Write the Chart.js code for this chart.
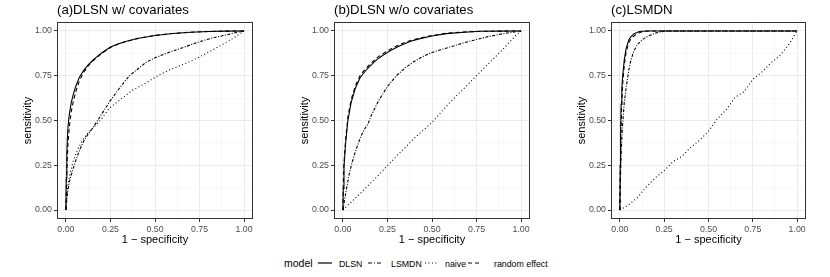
<!DOCTYPE html>
<html>
<head>
<meta charset="utf-8">
<script src="https://cdn.jsdelivr.net/npm/chart.js@4/dist/chart.umd.min.js"></script>
<style>
  body { margin: 0; background: #fff; font-family: "Liberation Sans", Arial, sans-serif; }
  #wrap { position: relative; width: 830px; height: 277px; overflow: hidden; }
  canvas { position: absolute; top: 0; }
  .ptitle { position: absolute; top: 2px; font-size: 13.2px; color: #000; white-space: nowrap; }
  .leg { position: absolute; top: 256px; white-space: nowrap; color: #000; line-height: 14px; }
  .key { position: absolute; top: 259px; }
</style>
</head>
<body>
<div id="wrap">
  <canvas id="chartA" width="277" height="250" style="left:0px"></canvas>
  <canvas id="chartB" width="277" height="250" style="left:277px"></canvas>
  <canvas id="chartC" width="276" height="250" style="left:554px"></canvas>
  <div class="ptitle" style="left:57px">(a)DLSN w/ covariates</div>
  <div class="ptitle" style="left:334px">(b)DLSN w/o covariates</div>
  <div class="ptitle" style="left:611px">(c)LSMDN</div>

  <!-- legend -->
  <div class="leg" style="left:284px;font-size:10.5px">model</div>
  <svg class="key" style="left:318px" width="14" height="8"><line x1="0" y1="4" x2="14" y2="4" stroke="#000" stroke-width="1.2"/></svg>
  <div class="leg" style="left:339px;font-size:8.8px;top:257px">DLSN</div>
  <svg class="key" style="left:368px" width="14" height="8"><line x1="0" y1="4" x2="14" y2="4" stroke="#000" stroke-width="1.2" stroke-dasharray="4,2,1,2"/></svg>
  <div class="leg" style="left:391px;font-size:8.8px;top:257px">LSMDN</div>
  <svg class="key" style="left:425px" width="14" height="8"><line x1="0" y1="4" x2="14" y2="4" stroke="#000" stroke-width="1.2" stroke-dasharray="1,2.5"/></svg>
  <div class="leg" style="left:445px;font-size:8.8px;top:257px">naive</div>
  <svg class="key" style="left:468px" width="14" height="8"><line x1="0" y1="4" x2="14" y2="4" stroke="#000" stroke-width="1.2" stroke-dasharray="4,3"/></svg>
  <div class="leg" style="left:494px;font-size:8.8px;top:257px">random effect</div>
</div>

<script>
// tick labels shared by all three panels
var tickValues = [0, 0.25, 0.5, 0.75, 1];
var minorValues = [0.125, 0.375, 0.625, 0.875];

// (a) DLSN w/ covariates
var aDlsnFpr = [0, 0.002, 0.005, 0.01, 0.015, 0.02, 0.03, 0.04, 0.055, 0.075, 0.1, 0.125, 0.15, 0.175, 0.2, 0.25, 0.3, 0.35, 0.4, 0.5, 0.6, 0.7, 0.8, 0.9, 1];
var aDlsnTpr = [0, 0.18, 0.32, 0.44, 0.5, 0.54, 0.6, 0.64, 0.69, 0.74, 0.78, 0.81, 0.835, 0.857, 0.877, 0.91, 0.93, 0.945, 0.958, 0.975, 0.986, 0.993, 0.997, 0.999, 1];
var aRandFpr = [0, 0.003, 0.007, 0.012, 0.02, 0.03, 0.04, 0.055, 0.075, 0.1, 0.125, 0.15, 0.2, 0.25, 0.3, 0.4, 0.5, 0.6, 0.7, 0.8, 0.9, 1];
var aRandTpr = [0, 0.15, 0.27, 0.38, 0.47, 0.55, 0.6, 0.66, 0.72, 0.77, 0.805, 0.832, 0.874, 0.908, 0.93, 0.957, 0.975, 0.986, 0.993, 0.997, 0.999, 1];
var aLsmdnFpr = [0, 0.005, 0.011, 0.02, 0.04, 0.06, 0.077, 0.1, 0.125, 0.15, 0.175, 0.2, 0.245, 0.3, 0.356, 0.4, 0.45, 0.5, 0.56, 0.65, 0.75, 0.82, 0.9, 0.95, 1];
var aLsmdnTpr = [0, 0.06, 0.11, 0.16, 0.23, 0.29, 0.335, 0.385, 0.425, 0.458, 0.495, 0.535, 0.605, 0.68, 0.75, 0.785, 0.825, 0.85, 0.874, 0.905, 0.94, 0.96, 0.978, 0.99, 1];
var aNaiveFpr = [0, 0.005, 0.011, 0.02, 0.04, 0.06, 0.08, 0.1, 0.125, 0.15, 0.175, 0.2, 0.245, 0.31, 0.375, 0.45, 0.524, 0.6, 0.674, 0.75, 0.82, 0.88, 0.935, 0.97, 1];
var aNaiveTpr = [0, 0.08, 0.14, 0.19, 0.27, 0.325, 0.365, 0.4, 0.432, 0.456, 0.48, 0.51, 0.57, 0.62, 0.67, 0.71, 0.755, 0.79, 0.82, 0.855, 0.892, 0.925, 0.957, 0.98, 1];

// (b) DLSN w/o covariates
var bDlsnFpr = [0, 0.002, 0.006, 0.015, 0.028, 0.046, 0.07, 0.097, 0.125, 0.153, 0.19, 0.227, 0.27, 0.32, 0.38, 0.433, 0.5, 0.58, 0.68, 0.77, 0.88, 1];
var bDlsnTpr = [0, 0.12, 0.24, 0.37, 0.5, 0.6, 0.68, 0.74, 0.775, 0.805, 0.84, 0.866, 0.892, 0.918, 0.942, 0.957, 0.972, 0.985, 0.993, 0.998, 0.999, 1];
var bRandFpr = [0, 0.002, 0.006, 0.015, 0.028, 0.046, 0.07, 0.097, 0.125, 0.153, 0.19, 0.227, 0.27, 0.32, 0.38, 0.433, 0.5, 0.58, 0.68, 0.77, 0.88, 1];
var bRandTpr = [0, 0.13, 0.26, 0.39, 0.52, 0.615, 0.695, 0.752, 0.787, 0.815, 0.85, 0.875, 0.9, 0.925, 0.947, 0.961, 0.975, 0.987, 0.994, 0.998, 0.999, 1];
var bLsmdnFpr = [0, 0.01, 0.02, 0.035, 0.05, 0.065, 0.08, 0.1, 0.12, 0.14, 0.16, 0.2, 0.25, 0.3, 0.35, 0.4, 0.45, 0.5, 0.55, 0.6, 0.7, 0.8, 0.9, 1];
var bLsmdnTpr = [0, 0.06, 0.12, 0.2, 0.26, 0.31, 0.355, 0.41, 0.45, 0.48, 0.53, 0.61, 0.69, 0.75, 0.795, 0.83, 0.858, 0.88, 0.895, 0.91, 0.94, 0.965, 0.985, 1];
var bNaiveFpr = [0, 0.1, 0.2, 0.3, 0.4, 0.5, 0.6, 0.7, 0.8, 0.9, 0.97, 1];
var bNaiveTpr = [0, 0.095, 0.195, 0.3, 0.4, 0.49, 0.6, 0.7, 0.8, 0.9, 0.975, 1];

// (c) LSMDN
var cDlsnFpr = [0, 0.002, 0.004, 0.007, 0.011, 0.017, 0.025, 0.035, 0.05, 0.063, 0.08, 0.11, 0.15, 0.25, 0.5, 1];
var cDlsnTpr = [0, 0.25, 0.42, 0.59, 0.68, 0.76, 0.84, 0.9, 0.95, 0.968, 0.985, 0.997, 1, 1, 1, 1];
var cRandFpr = [0, 0.003, 0.006, 0.01, 0.017, 0.025, 0.035, 0.05, 0.065, 0.09, 0.12, 0.16, 0.25, 0.5, 1];
var cRandTpr = [0, 0.25, 0.43, 0.58, 0.72, 0.81, 0.88, 0.935, 0.96, 0.98, 0.994, 1, 1, 1, 1];
var cLsmdnFpr = [0, 0.004, 0.008, 0.015, 0.025, 0.035, 0.05, 0.063, 0.08, 0.1, 0.125, 0.147, 0.175, 0.2, 0.23, 0.26, 0.5, 1];
var cLsmdnTpr = [0, 0.2, 0.33, 0.47, 0.6, 0.68, 0.78, 0.84, 0.89, 0.925, 0.95, 0.965, 0.978, 0.988, 0.995, 1, 1, 1];
var cNaiveFpr = [0, 0.05, 0.1, 0.15, 0.2, 0.25, 0.3, 0.35, 0.4, 0.45, 0.5, 0.55, 0.6, 0.65, 0.7, 0.75, 0.8, 0.85, 0.9, 0.95, 1];
var cNaiveTpr = [0, 0.03, 0.07, 0.13, 0.18, 0.22, 0.27, 0.3, 0.35, 0.39, 0.44, 0.51, 0.56, 0.63, 0.66, 0.73, 0.77, 0.82, 0.86, 0.92, 1];

// line styles per model (dash-dot kept tight, it reads almost solid in the original)
var dashes = { DLSN: [], LSMDN: [3, 1.5, 1, 1.5], naive: [1, 2.5], "random effect": [4, 3] };

const pts = (xs, ys) => xs.map((x, i) => ({ x: x, y: ys[i] }));
const isMajor = v => Math.abs(v * 4 - Math.round(v * 4)) < 1e-6;

// panel border like ggplot theme_bw
const borderPlugin = {
    id: 'panelBorder',
    afterDraw(chart) {
        const a = chart.chartArea, c = chart.ctx;
        c.save();
        c.strokeStyle = '#333333';
        c.lineWidth = 1;
        c.strokeRect(a.left + 0.5, a.top + 0.5, a.right - a.left - 1, a.bottom - a.top - 1);
        c.restore();
    }
};

const axis = (title, isX) => ({
    type: 'linear',
    min: -0.05,
    max: 1.05,
    afterBuildTicks: s => {
        s.ticks = tickValues.concat(minorValues).sort((p, q) => p - q).map(v => ({ value: v }));
    },
    afterFit: s => {
        if (isX) s.height = 31; else s.width = 57;
    },
    grid: {
        color: ctx => isMajor(ctx.tick.value) ? '#ebebeb' : '#f4f4f4',
        lineWidth: ctx => isMajor(ctx.tick.value) ? 1 : 0.6,
        tickColor: ctx => isMajor(ctx.tick.value) ? '#333333' : 'rgba(0,0,0,0)',
        tickLength: 3,
        drawTicks: true
    },
    border: { display: false },
    ticks: {
        autoSkip: false,
        maxRotation: 0,
        padding: 2,
        color: '#4d4d4d',
        font: { family: '"Liberation Sans", Arial, sans-serif', size: 8.8 },
        callback: v => isMajor(v) ? v.toFixed(2) : ''
    },
    title: {
        display: true,
        text: title,
        color: '#000',
        font: { family: '"Liberation Sans", Arial, sans-serif', size: 11 },
        padding: isX ? { top: 0, bottom: 3 } : { top: 21, bottom: 0 }
    }
});

const makePanel = (id, series) => new Chart(id, {
    type: 'line',
    data: {
        datasets: series.map(s => ({
            label: s.name,
            data: pts(s.fpr, s.tpr),
            borderColor: '#000',
            borderWidth: 1.1,
            borderDash: dashes[s.name],
            pointRadius: 0,
            tension: 0,
            fill: false
        }))
    },
    options: {
        responsive: false,
        animation: false,
        devicePixelRatio: 1,
        layout: { padding: { top: 22, right: 24, left: 0, bottom: 0 } },
        plugins: { legend: { display: false }, tooltip: { enabled: false } },
        scales: {
            x: axis('1 \u2212 specificity', true),
            y: axis('sensitivity', false)
        }
    },
    plugins: [borderPlugin]
});

makePanel('chartA', [
    { name: 'naive', fpr: aNaiveFpr, tpr: aNaiveTpr },
    { name: 'LSMDN', fpr: aLsmdnFpr, tpr: aLsmdnTpr },
    { name: 'random effect', fpr: aRandFpr, tpr: aRandTpr },
    { name: 'DLSN', fpr: aDlsnFpr, tpr: aDlsnTpr }
]);
makePanel('chartB', [
    { name: 'naive', fpr: bNaiveFpr, tpr: bNaiveTpr },
    { name: 'LSMDN', fpr: bLsmdnFpr, tpr: bLsmdnTpr },
    { name: 'random effect', fpr: bRandFpr, tpr: bRandTpr },
    { name: 'DLSN', fpr: bDlsnFpr, tpr: bDlsnTpr }
]);
makePanel('chartC', [
    { name: 'naive', fpr: cNaiveFpr, tpr: cNaiveTpr },
    { name: 'LSMDN', fpr: cLsmdnFpr, tpr: cLsmdnTpr },
    { name: 'random effect', fpr: cRandFpr, tpr: cRandTpr },
    { name: 'DLSN', fpr: cDlsnFpr, tpr: cDlsnTpr }
]);
</script>
</body>
</html>
